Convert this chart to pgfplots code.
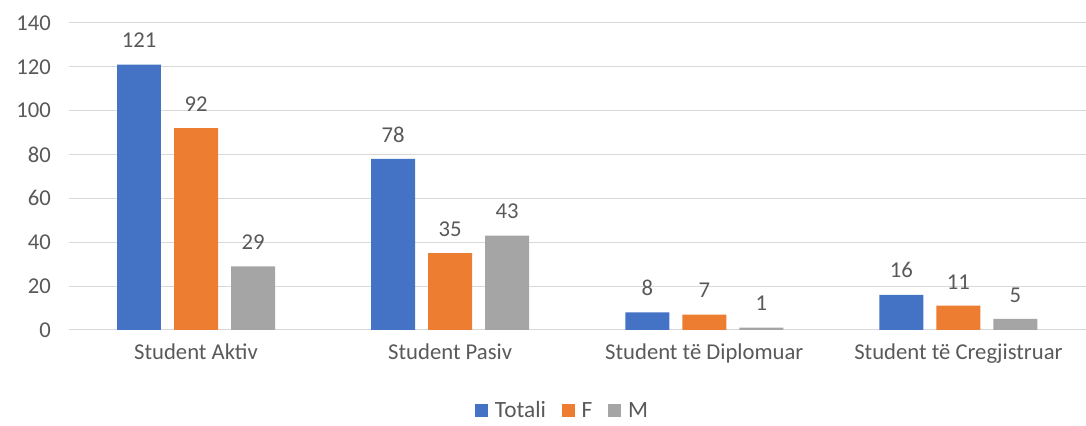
\documentclass[border=0pt]{standalone}
\usepackage{pgfplots}
\pgfplotsset{compat=1.18}
\usepackage{fontspec}
\setmainfont{Carlito}
\definecolor{cBlue}{HTML}{4472C4}
\definecolor{cOrange}{HTML}{ED7D31}
\definecolor{cGray}{HTML}{A5A5A5}
\definecolor{cText}{HTML}{595959}
\definecolor{cGrid}{HTML}{D9D9D9}
\begin{document}
\begin{tikzpicture}[x=1pt,y=1pt]
\begin{axis}[
    name=ax,
    scale only axis,
    width=762.75pt,
    height=230.25pt,
    ybar,
    bar width=0.173,
    xmin=-0.5, xmax=3.5,
    ymin=0, ymax=140,
    xtick={0,1,2,3},
    xticklabels={Student Aktiv,Student Pasiv,Student të Diplomuar,Student të Cregjistruar},
    ytick={0,20,...,140},
    ymajorgrids=true,
    grid style={cGrid, line width=0.75pt},
    axis line style={draw=none},
    major tick length=0pt,
    tick style={draw=none},
    ticklabel style={font=\fontsize{17}{19}\selectfont, text=cText},
    xticklabel style={yshift=-7pt},
    yticklabel style={xshift=-10pt},
    /pgf/number format/assume math mode=true,
    nodes near coords,
    every node near coord/.append style={font=\fontsize{17}{19}\selectfont, text=cText, anchor=south, yshift=9pt},
    clip=false,
    legend style={at={(0.486,-0.264)}, anchor=center, draw=none, legend columns=-1,
        font=\fontsize{17.5}{19}\selectfont, text=cText,
        /tikz/every odd column/.append style={column sep=3pt},
        /tikz/every even column/.append style={column sep=10pt}},
    legend image code/.code={\fill[#1] (0pt,-4.9pt) rectangle (9.8pt,4.9pt);},
]
\addplot[fill=cBlue, draw=none, bar shift=-0.2244] coordinates {(0,121) (1,78) (2,8) (3,16)};
\addplot[fill=cOrange, draw=none, bar shift=0] coordinates {(0,92) (1,35) (2,7) (3,11)};
\addplot[fill=cGray, draw=none, bar shift=0.2244] coordinates {(0,29) (1,43) (2,1) (3,5)};
\legend{Totali, F, M}
\end{axis}
\path ([xshift=-51.75pt, yshift=-69.75pt]ax.south west) rectangle ([yshift=17.25pt]ax.north east);
\end{tikzpicture}
\end{document}
